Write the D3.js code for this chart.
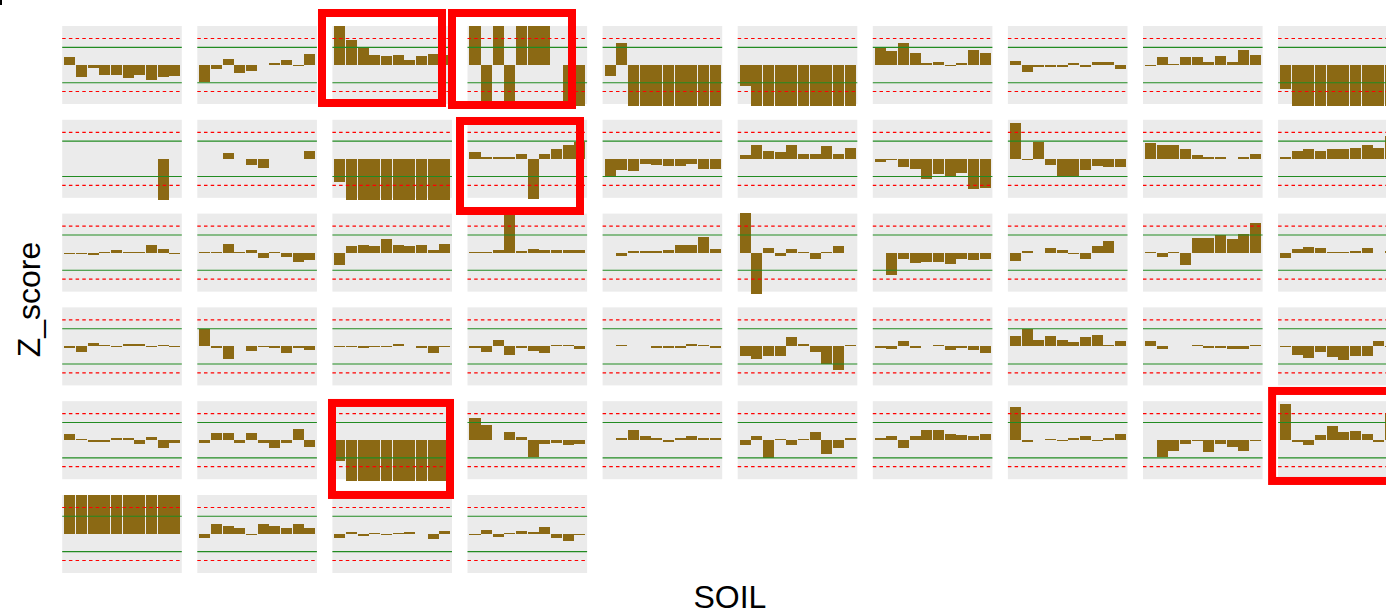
<!DOCTYPE html>
<html>
<head>
<meta charset="utf-8">
<script src="https://cdn.jsdelivr.net/npm/d3@7/dist/d3.min.js"></script>
<style>
  body { margin: 0; background: #fff; }
  svg { display: block; font-family: "Liberation Sans", Arial, sans-serif; }
</style>
</head>
<body>
<div id="chart"></div>
<script>
//-- Data: z-scores per facet, 10 positions each (null = no bar) --//
var positions = d3.range(10);
var thresholds = {inner: 2, outer: 3};

var zRow1 = [
  [0.9, -1.36, -0.34, -1.13, -1.13, -1.47, -1.13, -1.7, -1.36, -1.25],
  [-1.92, -0.45, 0.68, -0.9, -0.68, null, 0.23, 0.55, -0.1, 1.25],
  [5, 2.83, 2.04, 1.13, 1.02, 1.13, 0.57, 1.02, 1.25, 1.1],
  [5, -5, 5, -5, 5, 5, 5, null, -5, -5],
  [-1.25, 2.49, -5, -5, -5, -5, -5, -5, -5, -5],
  [-2.38, -5, -5, -5, -5, -5, -5, -5, -5, -5],
  [2.0, 1.58, 2.49, 1.36, 0.23, 0.34, -0.11, 0.23, 1.7, 1.36],
  [0.45, -0.79, -0.23, -0.23, -0.23, 0.23, -0.23, 0.3, 0.34, -0.45],
  [-0.1, 0.9, 0.11, 0.9, 0.9, 0.34, 1.02, 0.34, 1.7, 1.13],
  [-2.72, -5, -5, -5, -5, -5, -5, -5, -5, -5]
];
var zRow2 = [
  [null, null, null, null, null, null, null, null, -5, null],
  [null, null, 0.64, null, -0.72, -1.06, null, null, null, 0.87],
  [-2.6, -5, -5, -5, -5, -5, -5, -5, -5, -5],
  [0.72, 0.15, 0.15, 0.26, 0.6, -4.5, 0.6, 1.06, 1.51, 1.85],
  [-1.89, -1.32, -1.43, -0.64, -0.75, -0.87, -0.87, -0.64, -1.1, -1.21],
  [0.38, 1.62, 0.83, 0.72, 1.62, 0.49, 0.6, 1.4, 0.49, 1.17],
  [-0.4, -0.15, -0.98, -1.1, -2.23, -1.77, -1.89, -1.66, -3.47, -3.25],
  [4.0, -0.15, 1.85, -0.75, -2.0, -2.0, -1.32, -0.87, -0.98, -0.98],
  [1.74, 1.51, 1.51, 1.06, 0.38, 0.26, 0.15, null, 0.26, 0.49],
  [0.26, 0.83, 1.06, 0.94, 1.06, 1.06, 1.28, 1.51, 1.17, 2.53]
];
var zRow3 = [
  [-0.1, -0.1, -0.23, 0.08, 0.3, 0.12, 0.08, 0.85, 0.45, -0.1],
  [0.08, 0.12, 1.0, 0.08, 0.3, -0.57, 0.08, -0.45, -1.02, -0.79],
  [-1.36, 0.8, 0.9, 0.7, 1.5, 0.9, 0.8, 0.9, 0.34, 1.0],
  [0.08, 0.12, 0.3, 5, 0.23, 0.4, 0.3, 0.3, 0.3, 0.34],
  [null, -0.34, 0.23, 0.2, 0.23, 0.34, 0.9, 0.9, 1.81, 0.45],
  [5, -5, 0.57, -0.34, 0.45, 0.1, -0.68, 0.08, 0.8, null],
  [null, -2.49, -0.68, -1.13, -1.02, -1.02, -1.25, -0.68, -0.79, -0.68],
  [-0.9, 0.23, null, 0.57, 0.34, -0.1, -0.68, 0.8, 1.36, null],
  [0.12, -0.45, 0.08, -1.36, 1.6, 1.7, 2.04, 1.5, 2.15, 3.3],
  [-0.57, 0.45, 0.68, 0.57, 0.08, 0.08, 0.23, 0.57, null, 0.2]
];
var zRow4 = [
  [-0.23, -0.68, 0.34, 0.1, -0.1, 0.23, 0.23, -0.1, 0.12, -0.1],
  [1.92, -0.23, -1.47, null, -0.57, -0.1, -0.23, -0.79, -0.2, -0.45],
  [-0.1, -0.1, -0.23, -0.1, -0.1, 0.23, null, -0.23, -0.79, -0.1],
  [-0.23, -0.68, 0.68, -1.02, -0.23, -0.57, -0.79, 0.12, 0.12, -0.34],
  [null, 0.12, null, null, -0.2, -0.2, -0.2, 0.23, 0.12, -0.2],
  [-1.13, -1.47, -1.13, -1.13, 1.02, 0.3, -0.68, -2.04, -2.72, 0.1],
  [-0.2, -0.34, 0.6, -0.2, null, 0.12, -0.45, -0.2, -0.45, -0.79],
  [1.13, 1.92, 0.68, 1.13, 0.68, 0.45, 1.02, 1.25, 0.08, 0.57],
  [0.57, -0.34, null, null, 0.12, -0.2, -0.2, -0.34, -0.34, 0.1],
  [-0.1, -1.02, -1.36, -0.68, -1.25, -1.58, -1.13, -1.13, 0.6, -0.1]
];
var zRow5 = [
  [0.68, 0.1, -0.23, -0.23, 0.23, 0.23, -0.45, 0.34, -0.9, -0.34],
  [-0.34, 0.8, 0.8, -0.34, 0.8, -0.34, -0.9, -0.34, 1.25, -0.8],
  [-2.38, -5, -5, -5, -5, -5, -5, -5, -5, -5],
  [2.49, 1.7, null, 0.9, 0.34, -1.92, -0.45, -0.34, -0.57, -0.45],
  [null, 0.3, 1.2, 0.53, 0.2, -0.26, 0.2, 0.42, 0.3, 0.3],
  [-0.49, 0.42, -2.0, 0.1, -0.49, 0.08, 0.98, -1.62, -0.83, 0.3],
  [0.2, 0.42, -0.83, 0.53, 1.2, 1.2, 0.75, 0.64, 0.53, 0.75],
  [3.81, -0.26, null, 0.1, -0.1, 0.3, 0.53, -0.1, 0.2, 0.75],
  [null, -1.92, -1.25, -0.45, -0.1, -1.36, -0.45, -0.8, -1.25, -0.1],
  [4.08, -0.23, -0.57, 0.57, 1.58, 0.9, 1.02, 0.68, -0.23, 3.05]
];
var zRow6 = [
  [5, 5, 5, 5, 5, 5, 5, 5, 5, 5],
  [-0.49, 1.1, 0.87, 0.64, -0.15, 1.1, 0.87, 0.64, 1.1, 0.64],
  [-0.49, 0.2, -0.26, 0.1, -0.15, 0.1, 0.2, null, -0.6, 0.34],
  [-0.1, 0.42, -0.38, 0.1, 0.3, 0.2, 0.75, -0.49, -0.83, -0.1]
];

// facets marked with a red frame (index in reading order)
var flagged = [2, 3, 13, 42, 49];

var facets = [].concat(zRow1, zRow2, zRow3, zRow4, zRow5, zRow6);

//-- Layout --//
var W = 1386, H = 615, nCols = 10, nRows = 6;
var barColor = "#8B6914";
// frames are hand-drawn, slightly off their facet: dx, dy, w, h
var frameNudge = [[-10.4, -13, 120, 90], [-15.5, -13, 120, 92], [-7.5, 1.2, 120, 90],
                  [-0.4, 1.8, 118, 92], [-6, -10.2, 120, 90]];

var svg = d3.select("#chart").append("svg")
  .attr("width", W).attr("height", H);

var colScale = d3.scaleBand().domain(d3.range(nCols))
  .range([62.2, 1397.7]).paddingInner(0.1147).paddingOuter(0);
var rowScale = d3.scaleBand().domain(d3.range(nRows))
  .range([26, 573]).paddingInner(0.168).paddingOuter(0);

var pw = colScale.bandwidth(), ph = rowScale.bandwidth();

var xScale = d3.scaleBand().domain(positions).range([2, 118]).paddingInner(0.057).paddingOuter(0);
var yScale = d3.scaleLinear().domain([-4.417, 4.417]).range([ph, 0]);
var clampV = function(v) { return Math.max(-4.65, Math.min(4.45, v)); };
var y0 = Math.round(yScale(0));

facets.forEach(function(vals, i) {
  var r = Math.floor(i / nCols), c = i % nCols;
  var g = svg.append("g")
    .attr("transform", "translate(" + colScale(c) + "," + rowScale(r) + ")");

  g.append("rect")
    .attr("width", pw).attr("height", ph)
    .attr("fill", "#EBEBEB");

  // bars, at least one pixel tall so tiny scores stay visible
  g.selectAll(".bar")
    .data(vals.map(function(v, k) { return {k: k, v: v}; }).filter(function(d) { return d.v !== null; }))
    .enter().append("rect")
    .attr("class", "bar")
    .attr("x", function(d) { return xScale(d.k); })
    .attr("width", xScale.bandwidth())
    .attr("y", function(d) {
      var h = Math.max(1, Math.abs(yScale(clampV(d.v)) - y0));
      return d.v >= 0 ? y0 - h : y0; })
    .attr("height", function(d) { return Math.max(1, Math.abs(yScale(clampV(d.v)) - y0)); })
    .attr("fill", barColor)
    .attr("shape-rendering", "crispEdges");

  // threshold lines on top of the bars
  [thresholds.inner, -thresholds.inner].forEach(function(t) {
    g.append("line")
      .attr("x1", 0).attr("x2", pw)
      .attr("y1", yScale(t)).attr("y2", yScale(t))
      .attr("stroke", "#228B22").attr("stroke-width", 1.1);
  });
  [thresholds.outer, -thresholds.outer].forEach(function(t) {
    g.append("line")
      .attr("x1", 0).attr("x2", pw)
      .attr("y1", yScale(t)).attr("y2", yScale(t))
      .attr("stroke", "#FF0000").attr("stroke-width", 1.2)
      .attr("stroke-dasharray", "3.5,3.2");
  });
});

//-- Red frames --//
flagged.forEach(function(idx, j) {
  var r = Math.floor(idx / nCols), c = idx % nCols, n = frameNudge[j];
  svg.append("rect")
    .attr("x", colScale(c) + n[0]).attr("y", rowScale(r) + n[1])
    .attr("width", n[2]).attr("height", n[3])
    .attr("fill", "none").attr("stroke", "#FF0000").attr("stroke-width", 8);
});

//-- Axis titles --//
svg.append("text")
  .attr("x", (62.2 + 1397.7) / 2).attr("y", 608)
  .attr("text-anchor", "middle")
  .attr("font-size", 32)
  .text("SOIL");

svg.append("text")
  .attr("transform", "translate(40," + ((26 + 573) / 2) + ") rotate(-90)")
  .attr("text-anchor", "middle")
  .attr("font-size", 32)
  .text("Z_score");

// stray mark in the top-left corner
svg.append("rect").attr("x", 0).attr("y", 0).attr("width", 2).attr("height", 5).attr("fill", "#000");
</script>
</body>
</html>
